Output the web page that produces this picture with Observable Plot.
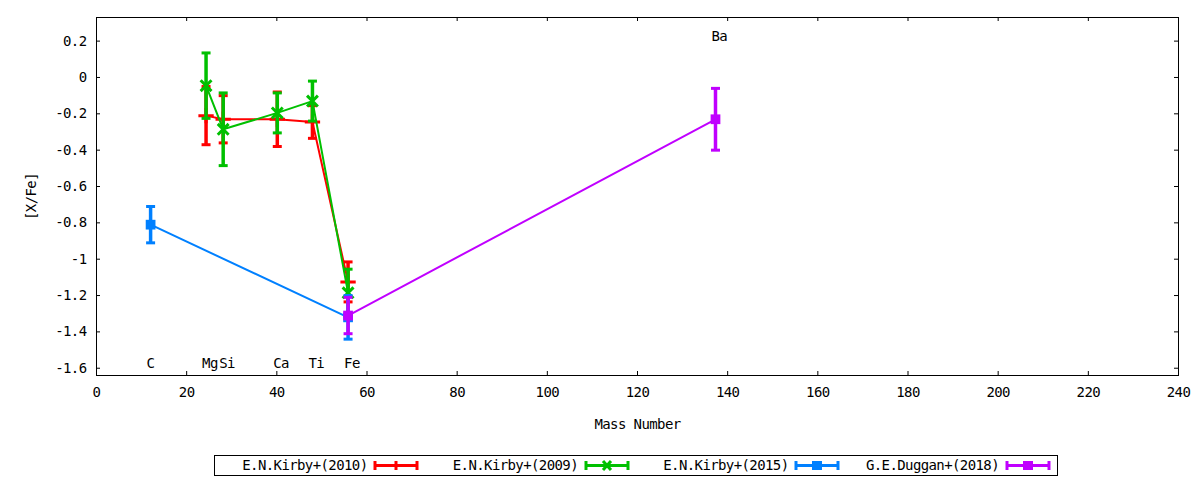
<!DOCTYPE html>
<html>
<head>
<meta charset="utf-8">
<script src="https://cdn.jsdelivr.net/npm/d3@7"></script>
<script src="https://cdn.jsdelivr.net/npm/@observablehq/plot@0.6"></script>
<style>
  body { margin: 0; background: #fff; }
  #wrap { position: relative; width: 1200px; height: 480px; font-family: "DejaVu Sans Mono", monospace; }
  #chart svg text { letter-spacing: -0.6px; }
  #legend { position: absolute; left: 214px; top: 455px; width: 842px; height: 19px; border: 1px solid #000; display: flex; background: #fff; }
  .item { position: relative; width: 210.5px; height: 100%; }
  .item span { position: absolute; right: 58px; top: 0px; font-size: 14px; letter-spacing: -0.6px; line-height: 18px; white-space: nowrap; color: #000; }
  .item svg { position: absolute; left: 158px; top: 0; }
</style>
</head>
<body>
<div id="wrap">
  <div id="chart"></div>
  <div id="legend"></div>
</div>
<script>
// ---- data ----
const elements = ["C", "Mg", "Si", "Ca", "Ti", "Fe", "Ba"];
const massNumbers = [12.0, 24.3, 28.1, 40.1, 47.9, 55.8, 137.3];
const labelLevels = [-1.574, -1.574, -1.574, -1.574, -1.574, -1.574, 0.226];

const seriesNames = ["E.N.Kirby+(2010)", "E.N.Kirby+(2009)", "E.N.Kirby+(2015)", "G.E.Duggan+(2018)"];
const seriesColors = ["#ff0000", "#00c000", "#0080ff", "#c000ff"];
const seriesSymbols = ["plus", "times", "square", "square"];

const kirby2010Elements = ["Mg", "Si", "Ca", "Ti", "Fe"];
const kirby2010Values = [-0.21, -0.23, -0.23, -0.245, -1.125];
const kirby2010Errors = [0.16, 0.13, 0.15, 0.09, 0.11];

const kirby2009Elements = ["Mg", "Si", "Ca", "Ti", "Fe"];
const kirby2009Values = [-0.045, -0.285, -0.195, -0.13, -1.185];
const kirby2009Errors = [0.18, 0.20, 0.11, 0.11, 0.13];

const kirby2015Elements = ["C", "Fe"];
const kirby2015Values = [-0.81, -1.32];
const kirby2015Errors = [0.10, 0.12];

const duggan2018Elements = ["Fe", "Ba"];
const duggan2018Values = [-1.31, -0.23];
const duggan2018Errors = [0.10, 0.17];

const xTicks = [0, 20, 40, 60, 80, 100, 120, 140, 160, 180, 200, 220, 240];
const yTicks = [-1.6, -1.4, -1.2, -1, -0.8, -0.6, -0.4, -0.2, 0, 0.2];

// ---- build ----
const massOf = el => massNumbers[elements.indexOf(el)];
const seriesData = [
  [kirby2010Elements, kirby2010Values, kirby2010Errors],
  [kirby2009Elements, kirby2009Values, kirby2009Errors],
  [kirby2015Elements, kirby2015Values, kirby2015Errors],
  [duggan2018Elements, duggan2018Values, duggan2018Errors]
].map(([els, vals, errs], i) => els.map((el, j) => ({
  series: seriesNames[i], el, x: massOf(el), y: vals[j], err: errs[j]
})));

const labels = elements.map((el, i) => ({ text: el, x: massNumbers[i], y: labelLevels[i] }));

const W = 1200, H = 440;
const mL = 96, mR = 22, mT = 17, mB = 65;
const innerW = W - mL - mR, innerH = H - mT - mB;
const tickLen = 4;

const capSymbol = {
  draw(ctx, size) {
    const r = Math.sqrt(size / Math.PI);
    ctx.moveTo(-r, 0);
    ctx.lineTo(r, 0);
  }
};

const font = { fontFamily: "DejaVu Sans Mono", fontSize: 14 };

const marks = [
  Plot.frame({ stroke: "#000", strokeWidth: 1 }),
  Plot.tickX(xTicks, { x: d => d, insetTop: innerH - tickLen, stroke: "#000" }),
  Plot.tickX(xTicks, { x: d => d, insetBottom: innerH - tickLen, stroke: "#000" }),
  Plot.tickY(yTicks, { y: d => d, insetRight: innerW - tickLen, stroke: "#000" }),
  Plot.tickY(yTicks, { y: d => d, insetLeft: innerW - tickLen, stroke: "#000" }),
  Plot.axisX(xTicks, { tickSize: 0, tickPadding: 12, tickFormat: d => String(d), label: "Mass Number", labelAnchor: "center", labelOffset: 53, labelArrow: "none", ...font }),
  Plot.axisY(yTicks, { tickSize: 0, tickPadding: 10, tickFormat: d => String(d), label: "[X/Fe]", labelAnchor: "center", labelOffset: 70, labelArrow: "none", ...font }),
  Plot.text(labels, { x: "x", y: "y", text: "text", textAnchor: "start", dx: -4, fill: "#000", ...font })
];

seriesData.forEach((rows, i) => {
  const c = seriesColors[i];
  const caps = rows.flatMap(d => [{ x: d.x, y: d.y - d.err }, { x: d.x, y: d.y + d.err }]);
  marks.push(
    Plot.line(rows, { x: "x", y: "y", stroke: c, strokeWidth: 2 }),
    Plot.ruleX(rows, { x: "x", y1: d => d.y - d.err, y2: d => d.y + d.err, stroke: c, strokeWidth: 3.5 }),
    Plot.dot(caps, { x: "x", y: "y", symbol: capSymbol, r: 4.5, stroke: c, strokeWidth: 3 }),
    seriesSymbols[i] === "square"
      ? Plot.dot(rows, { x: "x", y: "y", symbol: "square", r: 5.5, fill: c, stroke: "none" })
      : Plot.dot(rows, { x: "x", y: "y", symbol: seriesSymbols[i], r: 5, stroke: c, strokeWidth: 3 })
  );
});

const chart = Plot.plot({
  width: W, height: H,
  marginLeft: mL, marginRight: mR, marginTop: mT, marginBottom: mB,
  style: { fontFamily: "DejaVu Sans Mono", fontSize: "14px", color: "#000", background: "#fff" },
  x: { domain: [0, 240] },
  y: { domain: [-1.64, 0.33] },
  marks
});
document.getElementById("chart").appendChild(chart);

// ---- legend ----
const legend = document.getElementById("legend");
seriesNames.forEach((name, i) => {
  const c = seriesColors[i];
  const item = document.createElement("div");
  item.className = "item";
  const span = document.createElement("span");
  span.textContent = name;
  item.appendChild(span);
  const ns = "http://www.w3.org/2000/svg";
  const svg = document.createElementNS(ns, "svg");
  svg.setAttribute("width", 46); svg.setAttribute("height", 19);
  let inner = `<line x1="2" x2="44" y1="9.5" y2="9.5" stroke="${c}" stroke-width="3"/>
    <line x1="2" x2="2" y1="5" y2="14" stroke="${c}" stroke-width="3"/>
    <line x1="44" x2="44" y1="5" y2="14" stroke="${c}" stroke-width="3"/>`;
  if (seriesSymbols[i] === "square") inner += `<rect x="18" y="5" width="10" height="9" fill="${c}"/>`;
  else if (seriesSymbols[i] === "plus") inner += `<line x1="23" x2="23" y1="5" y2="14" stroke="${c}" stroke-width="3"/>`;
  else inner += `<path d="M19,5 L27,14 M27,5 L19,14" stroke="${c}" stroke-width="3"/>`;
  svg.innerHTML = inner;
  item.appendChild(svg);
  legend.appendChild(item);
});
</script>
</body>
</html>
